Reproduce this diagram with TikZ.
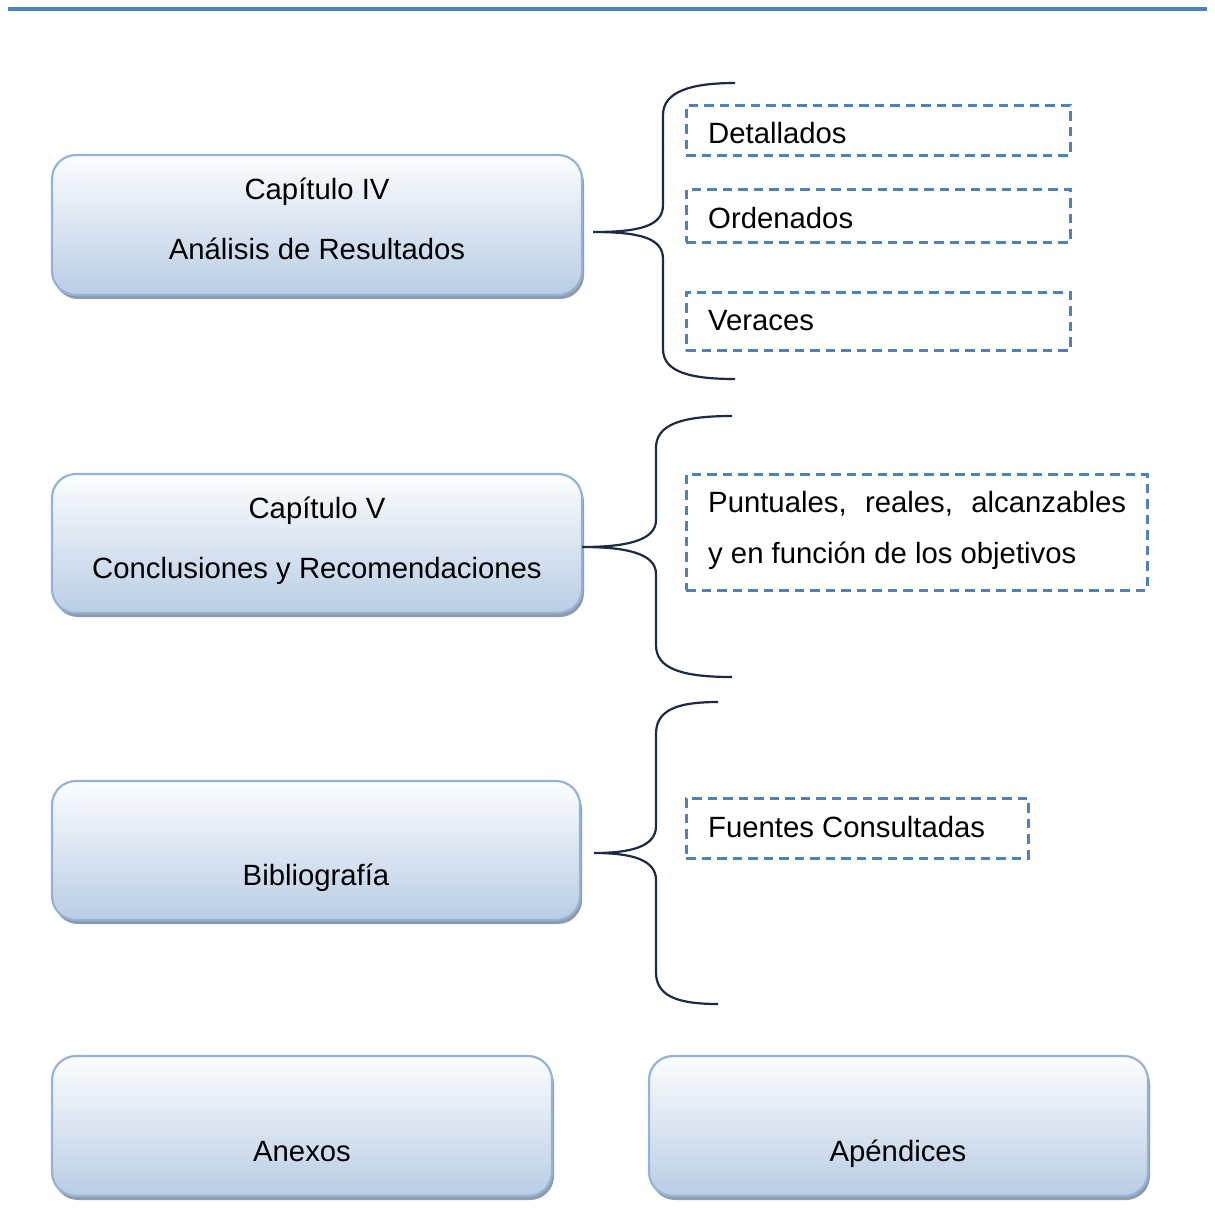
\documentclass[tikz,border=0pt]{standalone}
\usepackage{fontspec}
\setmainfont{Liberation Sans}
\usetikzlibrary{shadows}
\definecolor{rulebl}{HTML}{4F81BD}
\definecolor{boxedge}{HTML}{95B3D7}
\definecolor{boxtop}{HTML}{FCFDFE}
\definecolor{boxbot}{HTML}{B9CDE5}
\definecolor{boxshadow}{HTML}{8E9BAE}
\definecolor{bracecol}{HTML}{1B2A45}
\tikzset{
  chapter/.style={draw=boxedge, line width=2.2pt, rounded corners=24pt,
    top color=boxtop, bottom color=boxbot, inner sep=0pt,
    drop shadow={shadow xshift=2pt, shadow yshift=-4pt, fill=boxshadow, opacity=1}},
  lbl/.style={font=\fontsize{29.3}{35}\selectfont, anchor=base, inner sep=0pt},
  itembox/.style={draw=rulebl, line width=3pt, dash pattern=on 9.5pt off 6pt, inner sep=0pt},
  itemtext/.style={font=\fontsize{29.3}{35}\selectfont, anchor=base west, inner sep=0pt},
  bracepath/.style={draw=bracecol, line width=2.2pt},
}
\begin{document}
\begin{tikzpicture}[x=1pt, y=-1pt]
\useasboundingbox (0,0) rectangle (1215,1221);

% header rule
\coordinate (ruleL) at (8,8.5);
\coordinate (ruleR) at (1207,8.5);
\draw[rulebl, line width=4pt] (ruleL) -- (ruleR);

% chapter boxes
\node[chapter, minimum width=530pt, minimum height=140pt] (cap4) at (317,225) {};
\node[chapter, minimum width=530pt, minimum height=139pt] (cap5) at (317,543.5) {};
\node[chapter, minimum width=528pt, minimum height=139pt] (biblio) at (316,850.5) {};
\node[chapter, minimum width=500pt, minimum height=140pt] (anexos) at (302,1126) {};
\node[chapter, minimum width=499pt, minimum height=140pt] (apend) at (898.5,1126) {};

\node[lbl] (cap4a) at (317,199) {Capítulo IV};
\node[lbl] (cap4b) at (317,259) {Análisis de Resultados};
\node[lbl] (cap5a) at (317,518) {Capítulo V};
\node[lbl] (cap5b) at (317,578) {Conclusiones y Recomendaciones};
\node[lbl] (bibl) at (316,885) {Bibliografía};
\node[lbl] (anx) at (302,1161) {Anexos};
\node[lbl] (apd) at (898,1161) {Apéndices};

% dashed items
\node[itembox, minimum width=384pt, minimum height=50pt] (det) at (878,130) {};
\node[itembox, minimum width=384pt, minimum height=53pt] (ord) at (878,215.5) {};
\node[itembox, minimum width=384pt, minimum height=58pt] (ver) at (878,321) {};
\node[itembox, minimum width=461pt, minimum height=116pt] (pun) at (916.5,532) {};
\node[itembox, minimum width=342pt, minimum height=60pt] (fue) at (857,828) {};

\node[itemtext] (detT) at (708,143) {Detallados};
\node[itemtext] (ordT) at (708,228) {Ordenados};
\node[itemtext] (verT) at (708,330) {Veraces};
\node[itemtext] (punA) at (708,512) {\makebox[418pt][s]{Puntuales, reales, alcanzables}};
\node[itemtext] (punB) at (708,563) {y en función de los objetivos};
\node[itemtext] (fueT) at (708,837) {Fuentes Consultadas};

% braces
\coordinate (b1top) at (735,83);
\coordinate (b1tip) at (593,232);
\coordinate (b1bot) at (735,379);
\draw[bracepath] (b1top) .. controls (690,83) and (663,92) .. (663,115) -- (663,205)
  .. controls (663,226) and (640,232) .. (b1tip)
  .. controls (640,232) and (663,238) .. (663,259) -- (663,349)
  .. controls (663,372) and (690,379) .. (b1bot);

\coordinate (b2top) at (732,416);
\coordinate (b2tip) at (582,547);
\coordinate (b2bot) at (732,677);
\draw[bracepath] (b2top) .. controls (680,416) and (656,425) .. (656,448) -- (656,520)
  .. controls (656,541) and (625,547) .. (b2tip)
  .. controls (625,547) and (656,553) .. (656,574) -- (656,645)
  .. controls (656,668) and (680,677) .. (b2bot);

\coordinate (b3top) at (718,702);
\coordinate (b3tip) at (594,853);
\coordinate (b3bot) at (718,1004);
\draw[bracepath] (b3top) .. controls (675,702) and (656,711) .. (656,734) -- (656,826)
  .. controls (656,847) and (630,853) .. (b3tip)
  .. controls (630,853) and (656,859) .. (656,880) -- (656,972)
  .. controls (656,995) and (675,1004) .. (b3bot);
\end{tikzpicture}
\end{document}
